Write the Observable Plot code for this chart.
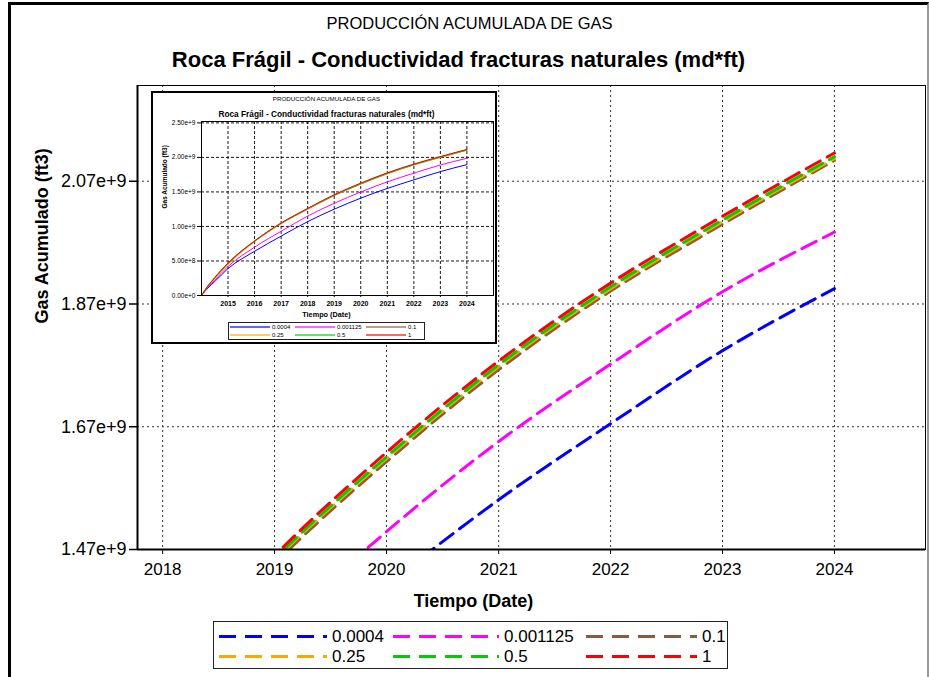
<!DOCTYPE html>
<html><head><meta charset="utf-8">
<script src="https://cdn.jsdelivr.net/npm/d3@7"></script>
<script src="https://cdn.jsdelivr.net/npm/@observablehq/plot@0.6"></script>
<style>
body{margin:0;background:#fff;font-family:"Liberation Sans",Arial,sans-serif;}
#root{position:relative;width:929px;height:677px;overflow:hidden;background:#fff;}
#main{position:absolute;left:0;top:0;}
#border{position:absolute;left:8px;top:2px;width:916px;height:720px;border-left:3px solid #000;border-top:3px solid #000;border-right:2px solid #999;pointer-events:none;z-index:5;}
#inset{position:absolute;left:151px;top:91px;border:2px solid #000;background:#fff;width:342px;height:249px;}
#inset > svg{position:absolute;left:0;top:0;}
.legend{position:absolute;border:1px solid #222;background:#fff;}
.item{position:absolute;display:flex;align-items:center;white-space:nowrap;}
.item svg{display:block;flex:none;}
</style></head>
<body><div id="root"><div id="main"></div><div id="inset"></div><div id="border"></div></div>
<script>
// ---- data ----
const seriesNames = ["0.0004","0.001125","0.1","0.25","0.5","1"];
const seriesColors = ["#0000ff","#ff00ff","#8c5a3c","#ffa500","#00cc00","#ff0000"];
const dates = ["2014-01-01","2014-04-01","2014-07-01","2015-01-01","2016-01-01","2017-01-01","2018-01-01","2019-01-01","2020-01-01","2021-01-01","2022-01-01","2023-01-01","2024-01-01"];
// cumulative gas, 1e9 ft3
const gas0004   = [0, 0.11, 0.20, 0.39, 0.64, 0.86, 1.07, 1.25, 1.41, 1.551, 1.675, 1.794, 1.895];
const gas001125 = [0, 0.12, 0.22, 0.42, 0.70, 0.93, 1.15, 1.335, 1.499, 1.646, 1.772, 1.890, 1.987];
const gas01     = [0, 0.14, 0.25, 0.46, 0.78, 1.04, 1.25, 1.447, 1.613, 1.763, 1.891, 2.000, 2.104];
const gas025    = [0, 0.13, 0.24, 0.45, 0.78, 1.045, 1.255, 1.452, 1.618, 1.768, 1.895, 2.004, 2.107];
const gas05     = [0, 0.14, 0.25, 0.47, 0.79, 1.05, 1.26, 1.455, 1.621, 1.771, 1.898, 2.007, 2.110];
const gas1      = [0, 0.14, 0.26, 0.47, 0.79, 1.05, 1.26, 1.460, 1.628, 1.777, 1.904, 2.013, 2.116];
const seriesValues = [gas0004, gas001125, gas01, gas025, gas05, gas1];

const mainYTicks = [1.47e9, 1.67e9, 1.87e9, 2.07e9];
const mainXTicks = ["2018","2019","2020","2021","2022","2023","2024"];
const insetYTicks = [0, 0.5e9, 1.0e9, 1.5e9, 2.0e9, 2.5e9];
const insetXTicks = ["2015","2016","2017","2018","2019","2020","2021","2022","2023","2024"];

const titleTop = "PRODUCCIÓN ACUMULADA DE GAS";
const titleMain = "Roca Frágil - Conductividad fracturas naturales (md*ft)";
const yLabel = "Gas Acumulado (ft3)";
const xLabel = "Tiempo (Date)";

// ---- table ----
const table = seriesNames.flatMap((name, i) => dates.map((d, j) => ({
  date: new Date(d + "T00:00:00Z"), value: seriesValues[i][j] * 1e9, series: name
})));
const yearDate = y => new Date(y + "-01-01T00:00:00Z");
const font = '"Liberation Sans", Arial, sans-serif';

// ---- main chart ----
const main = Plot.plot({
  width: 929, height: 677,
  marginLeft: 137, marginTop: 85, marginRight: 4, marginBottom: 128,
  style: {fontFamily: font, background: "transparent", color: "#000"},
  x: {type: "utc", domain: [new Date("2017-10-11T00:00:00Z"), new Date("2024-10-24T00:00:00Z")]},
  y: {domain: [1.47e9, 2.226e9]},
  color: {domain: seriesNames, range: seriesColors},
  marks: [
    Plot.gridX(mainXTicks.map(yearDate), {stroke: "#333", strokeOpacity: 1, strokeDasharray: "2,3"}),
    Plot.gridY(mainYTicks, {stroke: "#333", strokeOpacity: 1, strokeDasharray: "2,3"}),
    Plot.line(table, {x: "date", y: "value", z: "series", stroke: "series", strokeWidth: 3,
      strokeDasharray: "16,8", curve: "monotone-x", clip: true}),
    Plot.frame({stroke: "#000", strokeWidth: 1}),
    Plot.ruleX([new Date("2017-10-11T00:00:00Z")], {stroke: "#000", strokeWidth: 2}),
    Plot.ruleY([1.47e9], {stroke: "#000", strokeWidth: 2}),
    Plot.axisY(mainYTicks, {tickFormat: d3.format(".2e"), fontSize: 18, tickSize: 8, tickPadding: 3, strokeWidth: 1.5, label: null}),
    Plot.axisX(mainXTicks.map(yearDate), {tickFormat: d3.utcFormat("%Y"), fontSize: 17, tickSize: 5, tickPadding: 8, label: null}),
    Plot.text([yLabel], {text: d => d, frameAnchor: "left", dx: -95, dy: 6, rotate: -90, fontWeight: "bold", fontSize: 18, lineAnchor: "middle"}),
    Plot.text([xLabel], {text: d => d, frameAnchor: "bottom", dx: -58, dy: 52, fontWeight: "bold", fontSize: 18, lineAnchor: "middle"}),
    Plot.text([titleTop], {text: d => d, frameAnchor: "top", dx: -62, dy: -62, fontSize: 16.5, lineAnchor: "middle"}),
    Plot.text([titleMain], {text: d => d, frameAnchor: "top", dx: -73, dy: -26, fontSize: 22, fontWeight: "bold", lineAnchor: "middle"})
  ]
});
document.getElementById("main").appendChild(main);

// ---- inset chart ----
const inset = Plot.plot({
  width: 342, height: 249,
  marginLeft: 48, marginTop: 28, marginRight: 2, marginBottom: 47,
  style: {fontFamily: font, background: "#fff", color: "#000"},
  x: {type: "utc", domain: [yearDate("2014"), yearDate("2025")]},
  y: {domain: [0, 2.52e9]},
  color: {domain: seriesNames, range: seriesColors},
  marks: [
    Plot.gridX(insetXTicks.map(yearDate), {stroke: "#000", strokeOpacity: 0.9, strokeDasharray: "3,2"}),
    Plot.gridY(insetYTicks, {stroke: "#000", strokeOpacity: 0.9, strokeDasharray: "3,2"}),
    Plot.line(table, {x: "date", y: "value", z: "series", stroke: "series", strokeWidth: 1, curve: "monotone-x"}),
    Plot.frame({stroke: "#000", strokeWidth: 1}),
    Plot.axisY(insetYTicks, {tickFormat: d3.format(".2e"), fontSize: 6.5, tickSize: 4, tickPadding: 2, label: null}),
    Plot.axisX(insetXTicks.map(yearDate), {tickFormat: d3.utcFormat("%Y"), fontSize: 7, fontWeight: "bold", tickSize: 2, tickPadding: 4, label: null}),
    Plot.text([yLabel], {text: d => d, frameAnchor: "left", dx: -37, rotate: -90, fontWeight: "bold", fontSize: 6.5, lineAnchor: "middle"}),
    Plot.text([xLabel], {text: d => d, frameAnchor: "bottom", dx: -21, dy: 19, fontWeight: "bold", fontSize: 7.3, lineAnchor: "middle"}),
    Plot.text([titleTop], {text: d => d, frameAnchor: "top", dx: -21, dy: -22, fontSize: 6.2, lineAnchor: "middle"}),
    Plot.text([titleMain], {text: d => d, frameAnchor: "top", dx: -21, dy: -7, fontSize: 8.3, fontWeight: "bold", lineAnchor: "middle"})
  ]
});
const insetDiv = document.getElementById("inset");
insetDiv.appendChild(inset);

// ---- legends ----
function buildLegend(parent, box, cols, rows, lineLens, textGap, fontSize, lineStyle) {
  const lg = document.createElement("div");
  lg.className = "legend";
  Object.assign(lg.style, {left: box[0] + "px", top: box[1] + "px", width: box[2] + "px", height: box[3] + "px"});
  seriesNames.forEach((name, i) => {
    const c = i % 3, r = Math.floor(i / 3);
    const it = document.createElement("div");
    it.className = "item";
    const L = lineLens[c];
    const h = Math.ceil(fontSize * 1.2);
    Object.assign(it.style, {left: cols[c] + "px", top: (rows[r] - h / 2) + "px", height: h + "px", fontSize: fontSize + "px"});
    it.innerHTML = `<svg width="${L}" height="${h}"><line x1="0" x2="${L}" y1="${h/2}" y2="${h/2}" stroke="${seriesColors[i]}" stroke-width="${lineStyle.w}" stroke-dasharray="${lineStyle.dash}" stroke-opacity="${lineStyle.op}"/></svg><span style="margin-left:${textGap}px;line-height:${h}px">${name}</span>`;
    lg.appendChild(it);
  });
  parent.appendChild(lg);
}
buildLegend(document.getElementById("root"), [213, 621, 513, 46], [5, 179, 372], [14, 34], [108, 106, 111], 5, 17, {w: 3, dash: "17,9", op: 1});
buildLegend(insetDiv, [75, 229, 195, 16], [1, 66, 137], [4, 11.5], [40, 40, 40], 2, 6, {w: 2, dash: "none", op: 0.6});
</script></body></html>
